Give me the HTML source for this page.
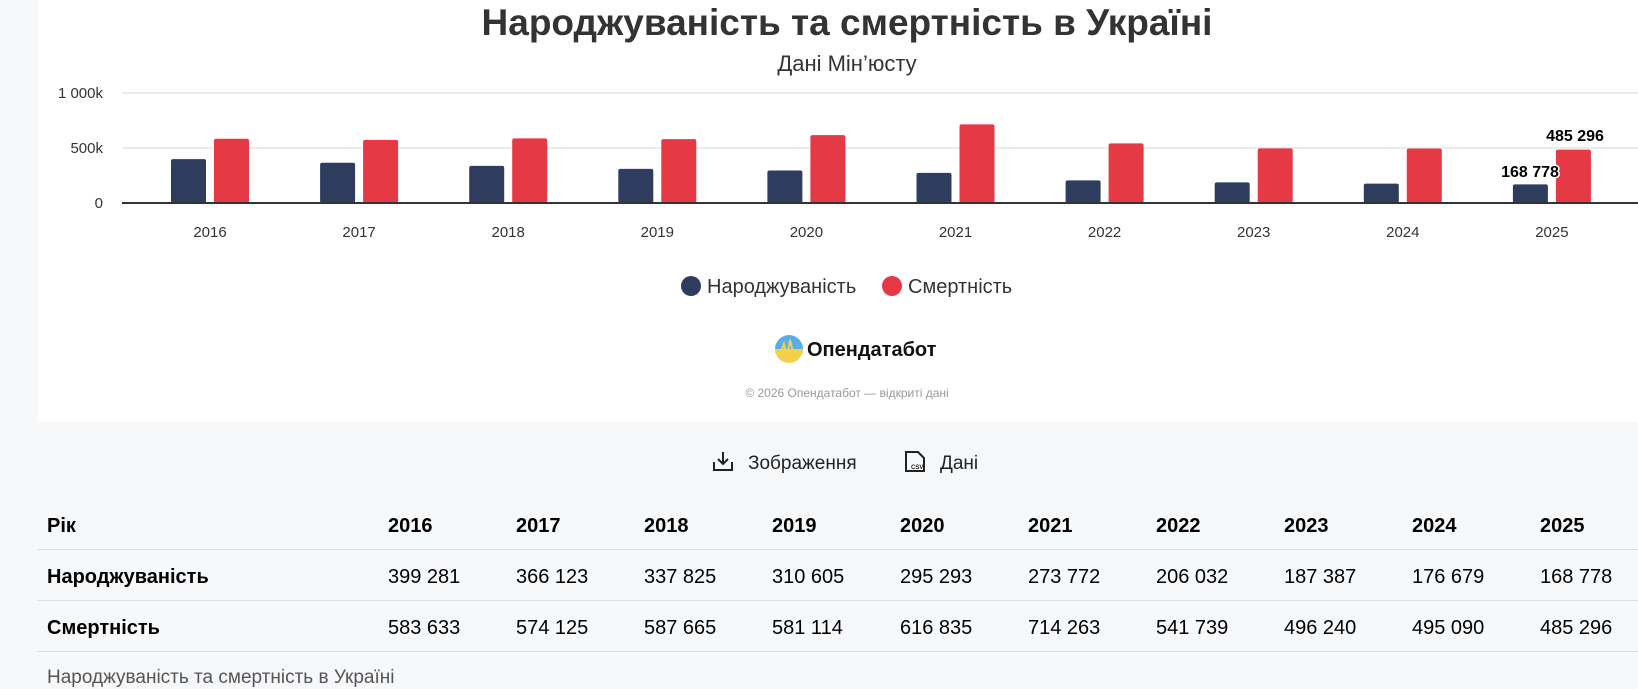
<!DOCTYPE html>
<html><head><meta charset="utf-8"><style>
html,body{margin:0;padding:0;}
body{width:1638px;height:688px;background:#f7f8fa;position:relative;overflow:hidden;font-family:"Liberation Sans",sans-serif;}
.card{position:absolute;left:38px;top:0;width:1600px;height:422px;background:#fff;}
svg{position:absolute;left:0;top:0;}
.t{position:absolute;font-size:20px;color:#000;white-space:nowrap;}
.b{font-weight:bold;}
.line{position:absolute;left:37px;width:1601px;height:1px;background:#dedfe2;}
</style></head><body>
<div class="card"></div>
<svg width="1638" height="500" xmlns="http://www.w3.org/2000/svg" font-family="Liberation Sans, sans-serif">
<text x="847" y="35" text-anchor="middle" font-size="37" font-weight="bold" fill="#333">Народжуваність та смертність в Україні</text>
<text x="847" y="71" text-anchor="middle" font-size="22" fill="#333">Дані Мін’юсту</text>
<line x1="122" y1="93" x2="1638" y2="93" stroke="#e6e6e6" stroke-width="1.5"/>
<line x1="122" y1="148" x2="1638" y2="148" stroke="#e6e6e6" stroke-width="1.5"/>
<g font-size="15" fill="#333" text-anchor="end">
<text x="103" y="98">1 000k</text><text x="103" y="153">500k</text><text x="103" y="208">0</text>
</g>
<g id="bars"></g>
<line x1="122" y1="203" x2="1638" y2="203" stroke="#333" stroke-width="2"/>
<g font-size="15" fill="#333" text-anchor="middle" id="xl"></g>
<g font-size="16" font-weight="bold" text-anchor="middle" stroke="#fff" stroke-width="3" paint-order="stroke" fill="#000">
<text x="1530" y="177">168 778</text><text x="1575" y="141">485 296</text>
</g>
<circle cx="691" cy="286" r="10" fill="#2e3d5e"/>
<text x="707" y="293" font-size="20" fill="#333">Народжуваність</text>
<circle cx="892" cy="286" r="10" fill="#e63946"/>
<text x="908" y="293" font-size="20" fill="#333">Смертність</text>
<defs><linearGradient id="g" x1="0" y1="0" x2="0" y2="1"><stop offset="0.5" stop-color="#5aaee8"/><stop offset="0.5" stop-color="#f2d04a"/></linearGradient></defs>
<circle cx="789" cy="349" r="14" fill="url(#g)"/>
<path d="M775 352 L781 352 L784 344 L787 356 L790 340 L793 352 L803 352" stroke="#f2d04a" stroke-width="2" fill="none"/>
<text x="807" y="356" font-size="20" font-weight="bold" fill="#111">Опендатабот</text>
<text x="847" y="397" text-anchor="middle" font-size="12" fill="#999">© 2026 Опендатабот — відкриті дані</text>
<g stroke="#222" stroke-width="2" fill="none">
<path d="M723 452 V464 M718 459 L723 464 L728 459"/>
<path d="M714 462 V470 H732 V462"/>
<path d="M906 452 H918 L924 458 V471 H906 Z"/>
</g>
<text x="911" y="469" font-size="6" font-weight="bold" fill="#222">CSV</text>
<text x="748" y="469" font-size="19" fill="#222">Зображення</text>
<text x="940" y="469" font-size="19" fill="#222">Дані</text>
</svg>
<div class="t b" style="left:47px;top:515px">Рік</div>
<div class="t b" style="left:47px;top:566px">Народжуваність</div>
<div class="t b" style="left:47px;top:617px">Смертність</div>
<div class="line" style="top:549px"></div>
<div class="line" style="top:600px"></div>
<div class="line" style="top:651px"></div>
<div class="t" style="left:47px;top:667px;color:#555;font-size:19px">Народжуваність та смертність в Україні</div>
<div id="tbl"></div>
<script>
var yrs=[2016,2017,2018,2019,2020,2021,2022,2023,2024,2025];
var b=[399281,366123,337825,310605,295293,273772,206032,187387,176679,168778];
var d=[583633,574125,587665,581114,616835,714263,541739,496240,495090,485296];
function f(n){return String(n).replace(/\B(?=(\d{3})+$)/g,' ');}
var ns="http://www.w3.org/2000/svg",g=document.getElementById('bars'),xl=document.getElementById('xl'),h='';
for(var i=0;i<10;i++){
 var c=210+i*149.1;
 [[b[i],c-39,'#2e3d5e'],[d[i],c+4,'#e63946']].forEach(function(a){
  var r=document.createElementNS(ns,'rect'),hh=a[0]*110/1e6;
  r.setAttribute('x',a[1]);r.setAttribute('width',35);r.setAttribute('y',203-hh);r.setAttribute('height',hh);
  r.setAttribute('rx',2);r.setAttribute('fill',a[2]);g.appendChild(r);});
 var t=document.createElementNS(ns,'text');t.setAttribute('x',c);t.setAttribute('y',237);t.textContent=yrs[i];xl.appendChild(t);
 var x=388+i*128;
 h+='<div class="t b" style="left:'+x+'px;top:515px">'+yrs[i]+'</div>';
 h+='<div class="t" style="left:'+x+'px;top:566px">'+f(b[i])+'</div>';
 h+='<div class="t" style="left:'+x+'px;top:617px">'+f(d[i])+'</div>';
}
document.getElementById('tbl').innerHTML=h;
</script>
</body></html>
